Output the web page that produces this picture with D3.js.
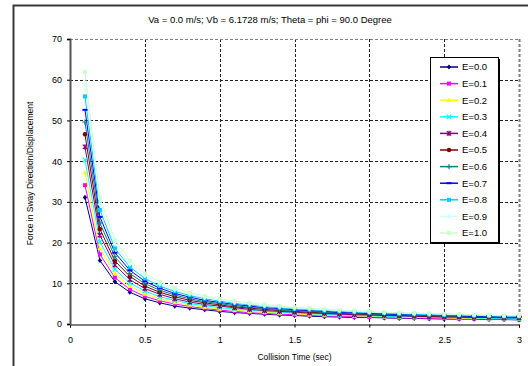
<!DOCTYPE html>
<html><head><meta charset="utf-8">
<script src="https://cdn.jsdelivr.net/npm/d3@7"></script>
<style>body{margin:0;background:#fff}svg{display:block;font-family:"Liberation Sans",Arial,sans-serif}</style>
</head><body><svg id="c" width="528" height="366"></svg>
<script>
const times = [0.1,0.2,0.3,0.4,0.5,0.6,0.7,0.8,0.9,1.0,1.1,1.2,1.3,1.4,1.5,1.6,1.7,1.8,1.9,2.0,2.1,2.2,2.3,2.4,2.5,2.6,2.7,2.8,2.9,3.0];
const seriesNames = ["E=0.0","E=0.1","E=0.2","E=0.3","E=0.4","E=0.5","E=0.6","E=0.7","E=0.8","E=0.9","E=1.0"];
const e00 = [31.1,15.6,10.4,7.8,6.2,5.2,4.4,3.9,3.5,3.1,2.8,2.6,2.4,2.2,2.1,1.9,1.8,1.7,1.6,1.6,1.5,1.4,1.4,1.3,1.2,1.2,1.2,1.1,1.1,1.0];
const e01 = [34.1,17.1,11.4,8.5,6.8,5.7,4.9,4.3,3.8,3.4,3.1,2.8,2.6,2.4,2.3,2.1,2.0,1.9,1.8,1.7,1.6,1.5,1.5,1.4,1.4,1.3,1.3,1.2,1.2,1.1];
const e02 = [37.2,18.6,12.4,9.3,7.4,6.2,5.3,4.7,4.1,3.7,3.4,3.1,2.9,2.7,2.5,2.3,2.2,2.1,2.0,1.9,1.8,1.7,1.6,1.6,1.5,1.4,1.4,1.3,1.3,1.2];
const e03 = [40.3,20.2,13.4,10.1,8.1,6.7,5.8,5.0,4.5,4.0,3.7,3.4,3.1,2.9,2.7,2.5,2.4,2.2,2.1,2.0,1.9,1.8,1.8,1.7,1.6,1.6,1.5,1.4,1.4,1.3];
const e04 = [43.5,21.8,14.5,10.9,8.7,7.3,6.2,5.4,4.8,4.4,4.0,3.6,3.3,3.1,2.9,2.7,2.6,2.4,2.3,2.2,2.1,2.0,1.9,1.8,1.7,1.7,1.6,1.6,1.5,1.5];
const e05 = [46.6,23.3,15.5,11.7,9.3,7.8,6.7,5.8,5.2,4.7,4.2,3.9,3.6,3.3,3.1,2.9,2.7,2.6,2.5,2.3,2.2,2.1,2.0,1.9,1.9,1.8,1.7,1.7,1.6,1.6];
const e06 = [49.6,24.8,16.5,12.4,9.9,8.3,7.1,6.2,5.5,5.0,4.5,4.1,3.8,3.5,3.3,3.1,2.9,2.8,2.6,2.5,2.4,2.3,2.2,2.1,2.0,1.9,1.8,1.8,1.7,1.7];
const e07 = [52.6,26.3,17.5,13.2,10.5,8.8,7.5,6.6,5.8,5.3,4.8,4.4,4.0,3.8,3.5,3.3,3.1,2.9,2.8,2.6,2.5,2.4,2.3,2.2,2.1,2.0,1.9,1.9,1.8,1.8];
const e08 = [55.9,28.0,18.6,14.0,11.2,9.3,8.0,7.0,6.2,5.6,5.1,4.7,4.3,4.0,3.7,3.5,3.3,3.1,2.9,2.8,2.7,2.5,2.4,2.3,2.2,2.2,2.1,2.0,1.9,1.9];
const e09 = [58.8,29.4,19.6,14.7,11.8,9.8,8.4,7.4,6.5,5.9,5.3,4.9,4.5,4.2,3.9,3.7,3.5,3.3,3.1,2.9,2.8,2.7,2.6,2.5,2.4,2.3,2.2,2.1,2.0,2.0];
const e10 = [61.9,31.0,20.6,15.5,12.4,10.3,8.8,7.7,6.9,6.2,5.6,5.2,4.8,4.4,4.1,3.9,3.6,3.4,3.3,3.1,2.9,2.8,2.7,2.6,2.5,2.4,2.3,2.2,2.1,2.1];
const xTicks = [0,0.5,1,1.5,2,2.5,3];
const yTicks = [0,10,20,30,40,50,60,70];
const titleText = "Va = 0.0 m/s; Vb = 6.1728 m/s; Theta = phi = 90.0 Degree";
const xLabel = "Collision Time (sec)";
const yLabel = "Force in Sway Direction/Displacement";

const allValues = [e00,e01,e02,e03,e04,e05,e06,e07,e08,e09,e10];
const colors = ["#000080","#FF00FF","#FFFF00","#00FFFF","#800080","#800000","#008080","#0000FF","#00CCFF","#CCFFFF","#CCFFCC"];
const markers = ["diamond","square","triangle","x","star","circle","plus","dash","square","diamond","square"];

const svg = d3.select("#c");
const L=70,R=519,T=39,B=324;
const x = d3.scaleLinear().domain([0,3]).range([L,R]);
const y = d3.scaleLinear().domain([0,70]).range([B,T]);

svg.append("rect").attr("x",13.5).attr("y",5.5).attr("width",540).attr("height",400)
  .attr("fill","none").attr("stroke","#3a3a3a").attr("stroke-width",2);

svg.append("text").attr("x",270).attr("y",23).attr("text-anchor","middle")
  .attr("font-size",9.5).attr("fill","#000").text(titleText);

const g = svg.append("g");
g.selectAll(".hg").data(yTicks.filter(d=>d>0&&d<70)).join("line")
  .attr("x1",L).attr("x2",R).attr("y1",d=>Math.round(y(d))+0.5).attr("y2",d=>Math.round(y(d))+0.5)
  .attr("stroke","#222").attr("stroke-dasharray","3,2").attr("stroke-width",1);
g.selectAll(".vg").data(xTicks.filter(d=>d>0&&d<3)).join("line")
  .attr("y1",T).attr("y2",B).attr("x1",d=>Math.round(x(d))+0.5).attr("x2",d=>Math.round(x(d))+0.5)
  .attr("stroke","#222").attr("stroke-dasharray","3,2").attr("stroke-width",1);
g.append("line").attr("x1",L).attr("x2",R).attr("y1",T+0.5).attr("y2",T+0.5)
  .attr("stroke","#808080").attr("stroke-dasharray","3,2");
g.append("line").attr("x1",R+0.5).attr("x2",R+0.5).attr("y1",T).attr("y2",B)
  .attr("stroke","#808080").attr("stroke-width",2).attr("stroke-dasharray","3,2");

const xAxis = d3.axisBottom(x).tickValues(xTicks).tickSize(3).tickFormat(d3.format("~g"));
const yAxis = d3.axisLeft(y).tickValues(yTicks).tickSize(3);
const gx = svg.append("g").attr("transform",`translate(0,${B+0.5})`).call(xAxis);
gx.select(".domain").attr("stroke","#000");
gx.selectAll("text").attr("font-size",9).attr("dy","1.35em").attr("fill","#000");
gx.selectAll(".tick line").attr("stroke","#000");
const gy = svg.append("g").attr("transform",`translate(${L},0)`).call(yAxis);
gy.select(".domain").attr("stroke","#555").attr("stroke-width",2);
gy.selectAll("text").attr("font-size",9).attr("x",-8).attr("fill","#000");

svg.append("text").attr("x",(L+R)/2).attr("y",360).attr("text-anchor","middle")
  .attr("font-size",8.5).text(xLabel);
svg.append("text").attr("transform",`translate(33,${(T+B)/2-8}) rotate(-90)`).attr("text-anchor","middle")
  .attr("font-size",8.5).text(yLabel);

function drawMarker(sel, type, color, cx, cy){
  const s=2.2;
  if(type==="diamond") sel.append("path").attr("d",`M${cx},${cy-s-0.4}L${cx+s},${cy}L${cx},${cy+s+0.4}L${cx-s},${cy}Z`).attr("fill",color);
  else if(type==="square") sel.append("rect").attr("x",cx-2).attr("y",cy-2).attr("width",4).attr("height",4).attr("fill",color);
  else if(type==="triangle") sel.append("path").attr("d",`M${cx},${cy-2.6}L${cx+2.6},${cy+1.8}L${cx-2.6},${cy+1.8}Z`).attr("fill",color);
  else if(type==="x") sel.append("path").attr("d",`M${cx-2.2},${cy-2.2}L${cx+2.2},${cy+2.2}M${cx-2.2},${cy+2.2}L${cx+2.2},${cy-2.2}`).attr("stroke",color).attr("stroke-width",1.2);
  else if(type==="star") sel.append("path").attr("d",`M${cx-2.2},${cy-2.2}L${cx+2.2},${cy+2.2}M${cx-2.2},${cy+2.2}L${cx+2.2},${cy-2.2}M${cx},${cy-2.6}L${cx},${cy+2.6}`).attr("stroke",color).attr("stroke-width",1.2);
  else if(type==="circle") sel.append("circle").attr("cx",cx).attr("cy",cy).attr("r",2.2).attr("fill",color);
  else if(type==="plus") sel.append("path").attr("d",`M${cx-2.6},${cy}L${cx+2.6},${cy}M${cx},${cy-2.6}L${cx},${cy+2.6}`).attr("stroke",color).attr("stroke-width",1.1);
  else if(type==="dash") sel.append("rect").attr("x",cx-2.6).attr("y",cy-1).attr("width",5.2).attr("height",2).attr("fill",color);
}

const line = d3.line().x((d,i)=>x(times[i])).y(d=>y(d));
const plot = svg.append("g");
allValues.forEach((vals,k)=>{
  plot.append("path").datum(vals).attr("d",line).attr("fill","none")
    .attr("stroke",colors[k]).attr("stroke-width",1);
});
allValues.forEach((vals,k)=>{
  const mg = plot.append("g");
  vals.forEach((v,i)=>drawMarker(mg, markers[k], colors[k], x(times[i]), y(v)));
});

const lg = svg.append("g");
lg.append("rect").attr("x",432).attr("y",59).attr("width",68).attr("height",185).attr("fill","#000");
lg.append("rect").attr("x",430.5).attr("y",57.5).attr("width",68).attr("height",185).attr("fill","#fff").attr("stroke","#000");
seriesNames.forEach((n,k)=>{
  const yy = 67 + k*16.6;
  lg.append("line").attr("x1",440).attr("x2",458).attr("y1",yy).attr("y2",yy).attr("stroke",colors[k]).attr("stroke-width",1.5);
  drawMarker(lg, markers[k], colors[k], 449, yy);
  lg.append("text").attr("x",462).attr("y",yy+3.3).attr("font-size",9.5).text(n);
});
</script></body></html>
